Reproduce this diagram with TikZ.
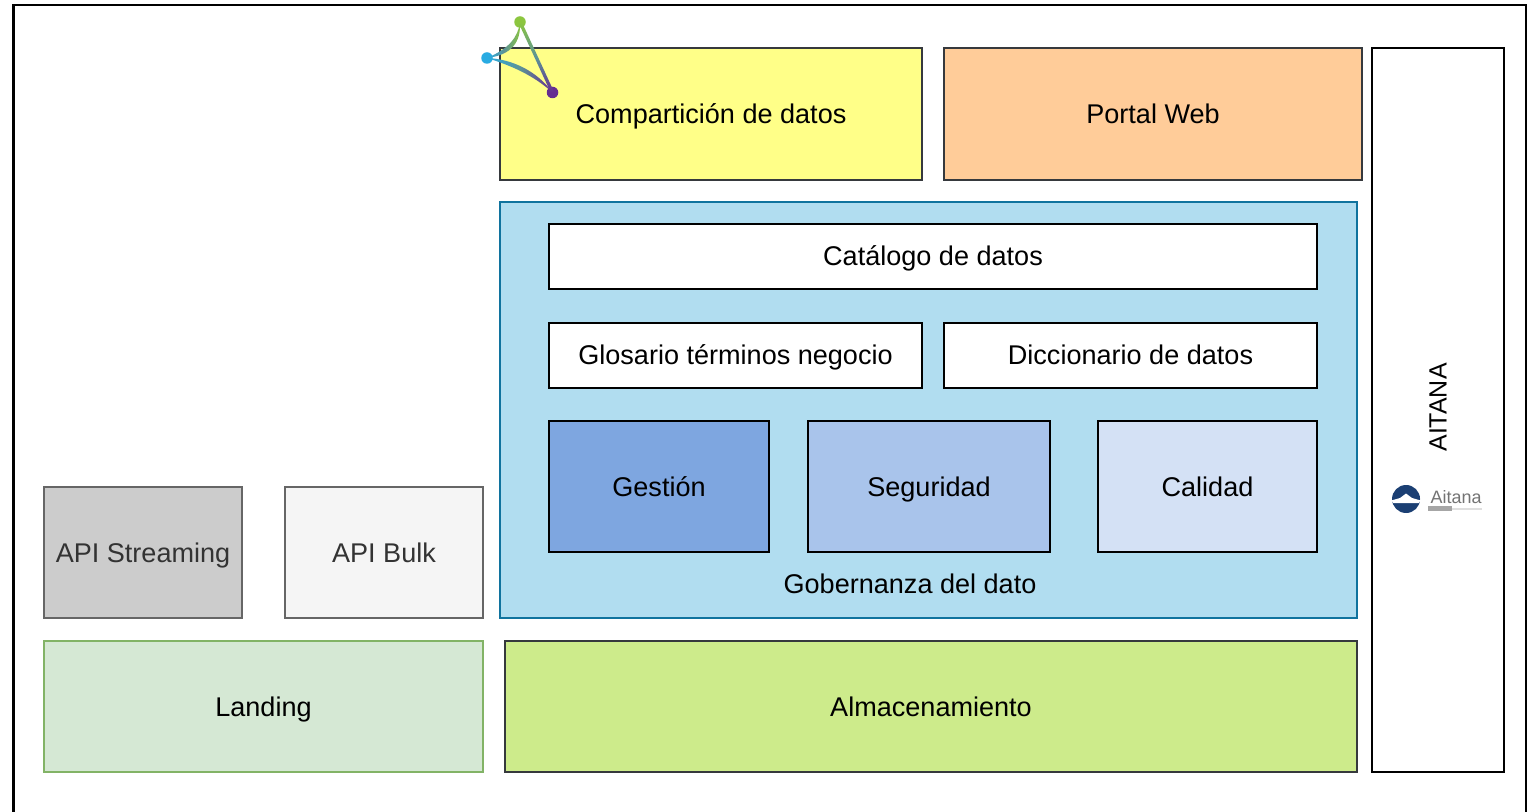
\documentclass[tikz,border=0pt]{standalone}
\usepackage{fontspec}
\setmainfont{Liberation Sans}
\usepackage{tikz}

\definecolor{boxline}{HTML}{36393D}
\definecolor{greyline}{HTML}{666666}
\definecolor{greytext}{HTML}{333333}
\definecolor{logoblue}{HTML}{1B3F73}
\definecolor{markgreen}{HTML}{8CC63F}
\definecolor{markblue}{HTML}{29ABE2}
\definecolor{markteal}{HTML}{5C9396}
\definecolor{markpurple}{HTML}{662D91}

\tikzset{
    block/.style={draw=boxline, line width=0.024cm, inner sep=0pt, outer sep=0pt, align=center, text height=0.22cm, text depth=0.03cm, font=\fontsize{7.7}{9}\selectfont},
    inner/.style={block, draw=black},
    apibox/.style={block, draw=greyline, text=greytext},
    markdot/.style={circle, inner sep=0pt, minimum size=0.115cm}
}

\begin{document}
\begin{tikzpicture}
        \useasboundingbox (0,0) rectangle (15.34,-8.12);

            \node[draw=black, line width=0.024cm, inner sep=0pt, minimum width=15.125cm, minimum height=8.6cm] (frame) at (7.6975,-4.35) {};

            \node[block, fill={rgb,255:red,255;green,255;blue,136}, minimum width=4.22cm, minimum height=1.32cm] (sharing) at (7.11,-1.14) {Compartición de datos};
            \node[block, fill={rgb,255:red,255;green,204;blue,153}, minimum width=4.18cm, minimum height=1.32cm] (portal) at (11.53,-1.14) {Portal Web};
            \node[inner, fill=white, minimum width=1.32cm, minimum height=7.24cm] (aitana) at (14.38,-4.10) {};
            \node[rotate=90, inner sep=0pt, font=\fontsize{7.1}{9}\selectfont] (aitanatext) at (14.38,-4.075) {AITANA};

            \node[block, draw={rgb,255:red,16;green,115;blue,158}, fill={rgb,255:red,177;green,221;blue,240}, minimum width=8.57cm, minimum height=4.16cm] (gob) at (9.285,-4.10) {};
            \node[block, draw=none] (gobtext) at (9.10,-5.84) {Gobernanza del dato};

            \node[inner, fill=white, minimum width=7.68cm, minimum height=0.65cm] (catalogo) at (9.33,-2.565) {Catálogo de datos};
            \node[inner, fill=white, minimum width=3.73cm, minimum height=0.65cm] (glosario) at (7.355,-3.555) {Glosario términos negocio};
            \node[inner, fill=white, minimum width=3.73cm, minimum height=0.65cm] (diccionario) at (11.305,-3.555) {Diccionario de datos};

            \node[inner, fill={rgb,255:red,126;green,166;blue,224}, minimum width=2.20cm, minimum height=1.31cm] (gestion) at (6.59,-4.865) {Gestión};
            \node[inner, fill={rgb,255:red,169;green,196;blue,235}, minimum width=2.42cm, minimum height=1.31cm] (seguridad) at (9.29,-4.865) {Seguridad};
            \node[inner, fill={rgb,255:red,212;green,225;blue,245}, minimum width=2.19cm, minimum height=1.31cm] (calidad) at (12.075,-4.865) {Calidad};

            \node[apibox, fill={rgb,255:red,204;green,204;blue,204}, minimum width=1.98cm, minimum height=1.31cm] (streaming) at (1.43,-5.525) {API Streaming};
            \node[apibox, fill={rgb,255:red,245;green,245;blue,245}, minimum width=1.98cm, minimum height=1.31cm] (bulk) at (3.84,-5.525) {API Bulk};

            \node[block, draw={rgb,255:red,130;green,179;blue,102}, fill={rgb,255:red,213;green,232;blue,212}, minimum width=4.39cm, minimum height=1.31cm] (landing) at (2.635,-7.065) {Landing};
            \node[block, fill={rgb,255:red,205;green,235;blue,139}, minimum width=8.52cm, minimum height=1.31cm] (almacen) at (9.31,-7.065) {Almacenamiento};

            % shared data mark
            \node[markdot, fill=markgreen] (mg) at (5.20,-0.22) {};
            \node[markdot, fill=markblue] (mb) at (4.87,-0.58) {};
            \node[markdot, fill=markpurple] (mp) at (5.525,-0.925) {};
            \shade[left color=markblue, right color=markgreen, middle color=markteal] (mb.center) .. controls (5.08,-0.49) and (5.18,-0.38) .. (mg.center) .. controls (5.21,-0.42) and (5.12,-0.55) .. (mb.center);
            \shade[left color=markblue, right color=markpurple, middle color=markteal] (mb.center) .. controls (5.12,-0.59) and (5.37,-0.71) .. (mp.center) .. controls (5.33,-0.75) and (5.12,-0.66) .. (mb.center);
            \shade[top color=markgreen, bottom color=markpurple, middle color=markteal] ([xshift=0.018cm]mg.center) -- ([xshift=0.018cm]mp.center) -- ([xshift=-0.018cm]mp.center) -- ([xshift=-0.018cm]mg.center) -- cycle;

            % logo of the side bar
            \node[circle, fill=logoblue, inner sep=0pt, minimum size=0.28cm] (logo) at (14.06,-4.99) {};
            \fill[white] ([yshift=-0.015cm]logo.west) -- ([xshift=-0.06cm,yshift=0.01cm]logo.center) -- ([yshift=0.055cm]logo.center) -- ([xshift=0.06cm,yshift=0.01cm]logo.center) -- ([yshift=-0.015cm]logo.east) -- ([xshift=-0.02cm,yshift=-0.04cm]logo.east) -- ([xshift=0.02cm,yshift=-0.04cm]logo.west) -- cycle;
            \node[inner sep=0pt, text=gray!90!black, font=\fontsize{5.1}{6}\selectfont, anchor=west] (logotext) at (14.30,-4.975) {Aitana};
            \fill[gray!70] (14.28,-5.06) rectangle (14.52,-5.11);
            \fill[gray!25] (14.52,-5.08) rectangle (14.82,-5.095);

        \end{tikzpicture}
\end{document}
